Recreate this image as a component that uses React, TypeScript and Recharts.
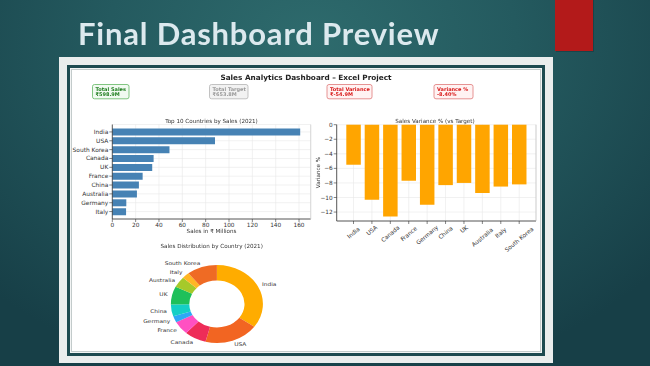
import React from "react";
import {
  BarChart,
  Bar,
  XAxis,
  YAxis,
  CartesianGrid,
  PieChart,
  Pie,
  Cell,
} from "recharts";

// Top 10 countries by sales (2021), ₹ millions
const topCountries = ["India", "USA", "South Korea", "Canada", "UK", "France", "China", "Australia", "Germany", "Italy"];
const topSales = [161, 88, 49, 35.4, 34.2, 26, 22.8, 21.1, 12, 11.8];
const salesTicks = [0, 20, 40, 60, 80, 100, 120, 140, 160];

// variance vs target, %
const varCountries = ["India", "USA", "Canada", "France", "Germany", "China", "UK", "Australia", "Italy", "South Korea"];
const varPct = [-5.5, -10.3, -12.6, -7.7, -11.0, -8.3, -8.0, -9.4, -8.5, -8.2];
const varTicks = [0, -2, -4, -6, -8, -10, -12];

const pieColors = ["#ffac00", "#f26522", "#ee2c58", "#ff50c2", "#2ea8f5", "#14cfc6", "#1ec05a", "#a6c92a", "#ffb624", "#ef6b24"];

const kpiLabels = ["Total Sales", "Total Target", "Total Variance", "Variance %"];
const kpiValues = ["₹598.9M", "₹653.8M", "₹-54.9M", "-8.40%"];

const FONT = "DejaVu Sans";

const hbarData = topCountries.map((c, i) => ({ country: c, sales: topSales[i] }));
const varData = varCountries.map((c, i) => ({ country: c, variance: varPct[i] }));
const pieData = varCountries.map((c) => ({
  name: c,
  value: topSales[topCountries.indexOf(c)],
}));

const minus = (v: number) => (v < 0 ? `\u2212${-v}` : `${v}`);

// plain tick so "South Korea" doesn't wrap
const CountryTick = (props: any) => {
  const { x, y, payload } = props;
  return (
    <text
      x={x}
      y={y}
      textAnchor="end"
      dominantBaseline="central"
      fontSize={5.9}
      fontFamily={FONT}
      fill="#333"
    >
      {payload.value}
    </text>
  );
};

const VarTick = (props: any) => {
  const { x, y, payload } = props;
  const label: string = payload.value;
  const w = label.length * 5.8 * 0.58;
  const h = (w + 5.8) * 0.68;
  const cy = y + h / 2 - 1;
  return (
    <text
      x={x}
      y={cy}
      textAnchor="middle"
      dominantBaseline="central"
      fontSize={5.8}
      fontFamily={FONT}
      fill="#333"
      transform={`rotate(-40 ${x} ${cy})`}
    >
      {label}
    </text>
  );
};

const RADIAN = Math.PI / 180;
const pieLabel = (p: any) => {
  const r = p.outerRadius * 1.1;
  const x = p.cx + r * Math.cos(-p.midAngle * RADIAN);
  const y = p.cy + r * Math.sin(-p.midAngle * RADIAN);
  return (
    <text
      x={x}
      y={y}
      textAnchor={x > p.cx ? "start" : "end"}
      dominantBaseline="central"
      fontSize={5}
      fontFamily={FONT}
      fill="#333"
    >
      {p.name}
    </text>
  );
};

const kpiBoxes = [
  { x: 92.5, w: 36.5, fill: "#f1faf1", stroke: "#62b862", text: "#1e7d1e" },
  { x: 209.5, w: 38.5, fill: "#f2f2f2", stroke: "#b4b4b4", text: "#9a9a9a" },
  { x: 327, w: 45, fill: "#fff3f3", stroke: "#e07878", text: "#d81818" },
  { x: 434, w: 39, fill: "#fff3f3", stroke: "#e07878", text: "#d81818" },
];

const tickStyle = { fontSize: 5.8, fill: "#333", fontFamily: FONT };

export default function App() {
  return (
    <div
      style={{
        position: "fixed",
        left: 0,
        top: 0,
        width: 650,
        height: 366,
        overflow: "hidden",
        background:
          "radial-gradient(ellipse 70% 95% at 48% 12%, #2e6b6d 0%, #245a5f 45%, #173f47 100%)",
      }}
    >
      {/* slide frame */}
      <div style={{ position: "absolute", left: 59, top: 57, width: 494, height: 306, background: "#eaeded" }} />
      <div
        style={{
          position: "absolute",
          left: 67,
          top: 65,
          width: 472,
          height: 285,
          border: "3px solid #1d4a50",
          background: "#f2f4f4",
        }}
      />
      <div
        style={{
          position: "absolute",
          left: 71,
          top: 69,
          width: 468,
          height: 281,
          border: "1px solid #c3cbcb",
          background: "#ffffff",
        }}
      />

      {/* top 10 horizontal bars */}
      <div style={{ position: "absolute", left: 60, top: 112 }}>
        <BarChart
          width={262}
          height={130}
          data={hbarData}
          layout="vertical"
          margin={{ top: 12.5, right: 11.3, bottom: 0, left: 0 }}
        >
          <CartesianGrid stroke="#e8e8e8" strokeWidth={0.6} />
          <XAxis
            type="number"
            domain={[0, 170]}
            ticks={salesTicks}
            interval={0}
            height={23}
            tickSize={3}
            tickMargin={1}
            tick={tickStyle}
            axisLine={{ stroke: "#333", strokeWidth: 0.8 }}
            tickLine={{ stroke: "#333", strokeWidth: 0.6 }}
          />
          <YAxis
            type="category"
            dataKey="country"
            width={52.3}
            interval={0}
            padding={{ top: 3, bottom: 3 }}
            tickSize={3}
            tickMargin={1}
            tick={<CountryTick />}
            axisLine={{ stroke: "#333", strokeWidth: 0.8 }}
            tickLine={{ stroke: "#333", strokeWidth: 0.6 }}
          />
          <Bar dataKey="sales" fill="#4682b4" barSize={7} isAnimationActive={false} />
        </BarChart>
      </div>

      {/* variance bars */}
      <div style={{ position: "absolute", left: 300, top: 112 }}>
        <BarChart
          width={250}
          height={150}
          data={varData}
          margin={{ top: 12.7, right: 14, bottom: 0, left: 0 }}
        >
          <CartesianGrid stroke="#e8e8e8" strokeWidth={0.6} />
          <XAxis
            dataKey="country"
            interval={0}
            height={41}
            padding={{ left: 7.6, right: 7.6 }}
            tickSize={3}
            tick={<VarTick />}
            axisLine={{ stroke: "#333", strokeWidth: 0.8 }}
            tickLine={{ stroke: "#333", strokeWidth: 0.6 }}
          />
          <YAxis
            type="number"
            domain={[-13.23, 0]}
            ticks={varTicks}
            interval={0}
            width={36.7}
            tickSize={3}
            tickMargin={1}
            tickFormatter={minus}
            tick={tickStyle}
            axisLine={{ stroke: "#333", strokeWidth: 0.8 }}
            tickLine={{ stroke: "#333", strokeWidth: 0.6 }}
          />
          <Bar dataKey="variance" fill="#ffa500" barSize={14.5} isAnimationActive={false} />
        </BarChart>
      </div>

      {/* donut, stretched like the pasted screenshot */}
      <div
        style={{
          position: "absolute",
          left: 121.3,
          top: 239,
          width: 180,
          height: 120,
          transform: "scaleX(1.18)",
          transformOrigin: "90px 60px",
        }}
      >
        <PieChart width={180} height={120}>
          <Pie
            data={pieData}
            dataKey="value"
            nameKey="name"
            cx={90}
            cy={60}
            innerRadius={23.4}
            outerRadius={39}
            startAngle={90}
            endAngle={-270}
            stroke="none"
            label={pieLabel}
            labelLine={false}
            isAnimationActive={false}
          >
            {pieData.map((d, i) => (
              <Cell key={d.name} fill={pieColors[i]} />
            ))}
          </Pie>
        </PieChart>
      </div>

      {/* texts and decorations */}
      <svg
        width={650}
        height={366}
        style={{ position: "absolute", left: 0, top: 0, pointerEvents: "none" }}
      >
        <rect x={556} y={0} width={38} height={52} fill="#0b2a30" opacity={0.35} />
        <rect x={555} y={0} width={38} height={51} fill="#b31a1a" />
        <text
          x={78}
          y={45}
          fontFamily="Lato"
          fontWeight={700}
          fontSize={31}
          letterSpacing={0.8}
          fill="#dce9ee"
        >
          Final Dashboard Preview
        </text>
        <text x={306} y={79.8} textAnchor="middle" fontFamily={FONT} fontWeight={700} fontSize={7.3} fill="#222">
          Sales Analytics Dashboard – Excel Project
        </text>
        {kpiBoxes.map((b, i) => (
          <g key={kpiLabels[i]}>
            <rect x={b.x} y={84.5} width={b.w} height={14.3} rx={2} fill={b.fill} stroke={b.stroke} strokeWidth={0.8} />
            <text x={b.x + 3} y={90.5} fontFamily={FONT} fontWeight={700} fontSize={5} fill={b.text}>
              {kpiLabels[i]}
            </text>
            <text x={b.x + 3} y={95.5} fontFamily={FONT} fontWeight={700} fontSize={5} fill={b.text}>
              {kpiValues[i]}
            </text>
          </g>
        ))}
        <line x1={310.7} y1={124.5} x2={310.7} y2={219} stroke="#c8c8c8" strokeWidth={0.6} />
        <line x1={536} y1={124.7} x2={536} y2={221} stroke="#b8b8b8" strokeWidth={0.6} />
        <text x={211.5} y={122.6} textAnchor="middle" fontFamily={FONT} fontSize={5.6} fill="#333">
          Top 10 Countries by Sales (2021)
        </text>
        <text x={211.5} y={232.6} textAnchor="middle" fontFamily={FONT} fontSize={5.6} fill="#333">
          Sales in ₹ Millions
        </text>
        <text x={435} y={122.6} textAnchor="middle" fontFamily={FONT} fontSize={5.6} fill="#333">
          Sales Variance % (vs Target)
        </text>
        <text
          x={318}
          y={172.5}
          textAnchor="middle"
          dominantBaseline="central"
          fontFamily={FONT}
          fontSize={5.6}
          fill="#333"
          transform="rotate(-90 318 172.5)"
        >
          Variance %
        </text>
        <text x={211.7} y={248} textAnchor="middle" fontFamily={FONT} fontSize={5.6} fill="#333">
          Sales Distribution by Country (2021)
        </text>
      </svg>
    </div>
  );
}
